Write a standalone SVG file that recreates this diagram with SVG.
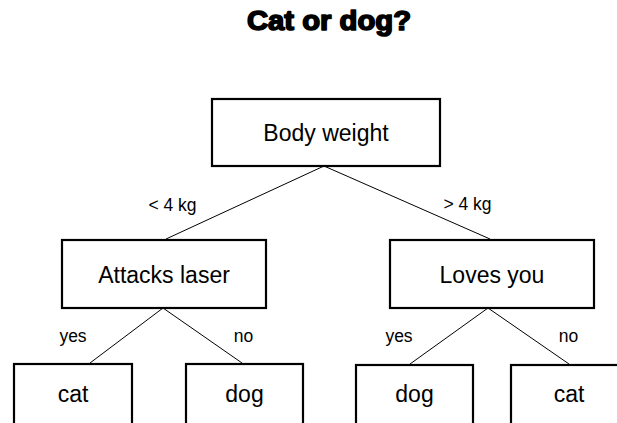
<svg xmlns="http://www.w3.org/2000/svg" width="617" height="423" viewBox="0 0 617 423">
<style>
.box{fill:#fff;stroke:#000;stroke-width:2.2}
.lbl{font-family:"Liberation Sans",Arial,sans-serif;font-size:23px;text-anchor:middle;fill:#000}
.edge{font-family:"Liberation Sans",Arial,sans-serif;font-size:17.5px;text-anchor:middle;fill:#000}
.con line{stroke:#000;stroke-width:1}
.title{font-family:"Liberation Sans",Arial,sans-serif;font-weight:bold;font-size:27px;text-anchor:middle;fill:#000;stroke:#000;stroke-width:1.6;stroke-linejoin:round}
</style>
<rect width="617" height="423" fill="#fff"/>
<text class="title" x="329" y="29.5" textLength="164" lengthAdjust="spacingAndGlyphs">Cat or dog?</text>
<g id="connectors" class="con">
<line x1="324" y1="166" x2="166" y2="239"/>
<line x1="324" y1="166" x2="490" y2="239"/>
<line x1="163" y1="308" x2="90" y2="363"/>
<line x1="163" y1="308" x2="242" y2="363"/>
<line x1="488" y1="308" x2="410" y2="364"/>
<line x1="488" y1="308" x2="569" y2="364"/>
<text class="edge" x="172.5" y="211">&lt; 4 kg</text>
<text class="edge" x="467.5" y="210">&gt; 4 kg</text>
<text class="edge" x="73" y="342">yes</text>
<text class="edge" x="243.5" y="342">no</text>
<text class="edge" x="399" y="342">yes</text>
<text class="edge" x="568.5" y="342">no</text>
</g>
<g id="n-body">
<rect class="box" x="212" y="99" width="228" height="67"/>
<text class="lbl" x="326" y="141">Body weight</text>
</g>
<g id="n-attacks">
<rect class="box" x="62" y="240" width="204" height="68"/>
<text class="lbl" x="164" y="283">Attacks laser</text>
</g>
<g id="n-loves">
<rect class="box" x="390" y="240" width="204" height="68"/>
<text class="lbl" x="492" y="283">Loves you</text>
</g>
<g id="n-cat1">
<rect class="box" x="14" y="364" width="118" height="70"/>
<text class="lbl" x="73" y="402">cat</text>
</g>
<g id="n-dog1">
<rect class="box" x="186" y="364" width="117" height="70"/>
<text class="lbl" x="244.5" y="402">dog</text>
</g>
<g id="n-dog2">
<rect class="box" x="356" y="365" width="117" height="70"/>
<text class="lbl" x="414.5" y="402">dog</text>
</g>
<g id="n-cat2">
<rect class="box" x="511" y="365" width="118" height="70"/>
<text class="lbl" x="569" y="402">cat</text>
</g>
</svg>
